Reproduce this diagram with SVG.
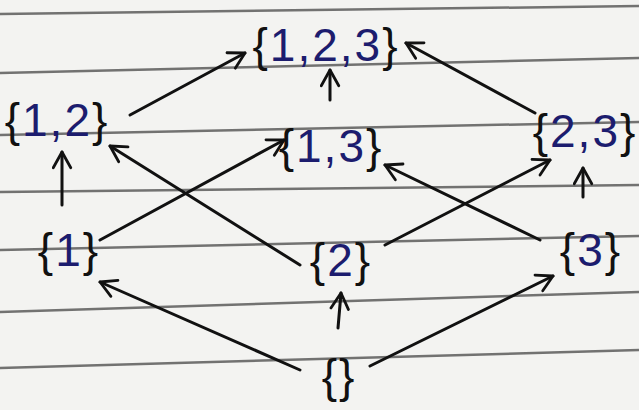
<svg xmlns="http://www.w3.org/2000/svg" width="639" height="410" viewBox="0 0 639 410">
<style>
.rule{stroke:#5a5a5a;stroke-width:2.5;fill:none;opacity:0.85}
.lbl{font-family:"Liberation Sans",Arial,sans-serif;font-size:46px;letter-spacing:2px;fill:#1c1c6e;text-anchor:middle;dominant-baseline:central}
.br{fill:#111}
.edge{stroke:#111;stroke-width:3;fill:none;stroke-linecap:round;marker-end:url(#ah)}
</style>
<defs>
<marker id="ah" viewBox="0 0 12 12" refX="10" refY="6" markerWidth="7" markerHeight="7" orient="auto" markerUnits="strokeWidth">
<path d="M1,1 L10,6 L1,11" fill="none" stroke="#111" stroke-width="1.6" stroke-linecap="round" stroke-linejoin="round"/>
</marker>
</defs>
<rect width="639" height="410" fill="#f3f3f1"/>
<g id="paper-lines">
<path class="rule" d="M0,14 L639,6"/>
<path class="rule" d="M0,73 L639,58"/>
<path class="rule" d="M0,135 L639,122"/>
<path class="rule" d="M0,192 L639,185"/>
<path class="rule" d="M0,250 L639,236"/>
<path class="rule" d="M0,312 L639,292"/>
<path class="rule" d="M0,368 L639,350"/>
</g>
<g id="connectors">
<path class="edge" d="M130,115 L245,53"/>
<path class="edge" d="M330,100 L330,70"/>
<path class="edge" d="M535,113 L406,43"/>
<path class="edge" d="M62,205 L62,152"/>
<path class="edge" d="M100,240 L284,140"/>
<path class="edge" d="M300,265 L110,146"/>
<path class="edge" d="M385,245 L550,160"/>
<path class="edge" d="M540,240 L385,165"/>
<path class="edge" d="M583,197 L583,168"/>
<path class="edge" d="M300,370 L100,282"/>
<path class="edge" d="M338,328 L341,293"/>
<path class="edge" d="M370,366 L553,276"/>
</g>
<g id="n123"><text class="lbl" x="326" y="45"><tspan class="br">{</tspan>1,2,3<tspan class="br">}</tspan></text></g>
<g id="n12"><text class="lbl" x="57" y="120"><tspan class="br">{</tspan>1,2<tspan class="br">}</tspan></text></g>
<g id="n13"><text class="lbl" x="331" y="146"><tspan class="br">{</tspan>1,3<tspan class="br">}</tspan></text></g>
<g id="n23"><text class="lbl" x="585" y="131"><tspan class="br">{</tspan>2,3<tspan class="br">}</tspan></text></g>
<g id="n1"><text class="lbl" x="69" y="250"><tspan class="br">{</tspan>1<tspan class="br">}</tspan></text></g>
<g id="n2"><text class="lbl" x="341" y="260"><tspan class="br">{</tspan>2<tspan class="br">}</tspan></text></g>
<g id="n3"><text class="lbl" x="591" y="250"><tspan class="br">{</tspan>3<tspan class="br">}</tspan></text></g>
<g id="n0"><text class="lbl" x="339" y="376"><tspan class="br">{</tspan><tspan class="br">}</tspan></text></g>
</svg>
